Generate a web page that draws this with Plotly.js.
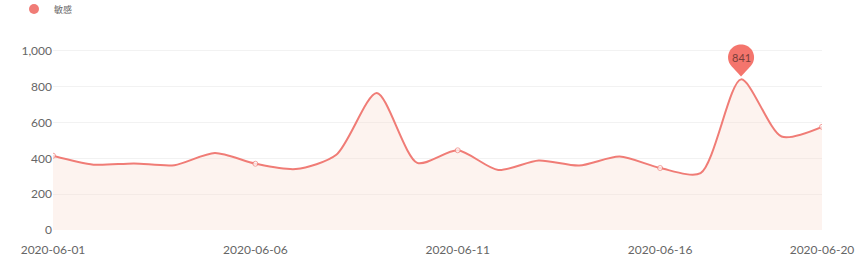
<!DOCTYPE html>
<html>
<head>
<meta charset="utf-8">
<script src="https://cdn.plot.ly/plotly-3.0.1.min.js"></script>
<style>html,body{margin:0;padding:0;background:#fff;}#chart{width:864px;height:270px;}</style>
</head>
<body>
<div id="chart"></div>
<script>
var dates = ["2020-06-01","2020-06-02","2020-06-03","2020-06-04","2020-06-05","2020-06-06","2020-06-07","2020-06-08","2020-06-09","2020-06-10",
             "2020-06-11","2020-06-12","2020-06-13","2020-06-14","2020-06-15","2020-06-16","2020-06-17","2020-06-18","2020-06-19","2020-06-20"];
var sensitive = [415, 365, 372, 362, 430, 370, 340, 420, 765, 375,
                 445, 335, 388, 360, 410, 346, 318, 841, 522, 576];
var tickLabels = ["2020-06-01","2020-06-06","2020-06-11","2020-06-16","2020-06-20"];
var seriesName = "敏感";

var lineColor = "#f07c76";
var markerIdx = dates.map(function(d){ return tickLabels.indexOf(d) >= 0; });

var maxVal = Math.max.apply(null, sensitive);
var maxIdx = sensitive.indexOf(maxVal);

// pin path in pixel offsets relative to the max point
var r = 13, cy = 22, tipY = 3;
var d = cy - tipY;
var a = Math.acos(r / d);
var pts = [];
pts.push([0, tipY]);
var start = -Math.PI/2 + a, end = -Math.PI/2 - a + 2*Math.PI;
for (var k = 0; k <= 40; k++) {
  var t = start + (end - start) * k / 40;
  pts.push([r*Math.cos(t), cy + r*Math.sin(t)]);
}
var path = pts.map(function(p, i){ return (i === 0 ? "M" : "L") + p[0].toFixed(2) + "," + p[1].toFixed(2); }).join(" ") + " Z";

var traces = [
  {
    x: dates, y: sensitive, type: "scatter", mode: "lines+markers",
    line: {shape: "spline", smoothing: 0.75, color: lineColor, width: 2},
    marker: {
      size: markerIdx.map(function(m){ return m ? 5 : 0; }),
      color: "#ffffff",
      line: {color: lineColor, width: markerIdx.map(function(m){ return m ? 1 : 0; })}
    },
    fill: "tozeroy", fillcolor: "rgba(250,222,210,0.35)",
    showlegend: false, hoverinfo: "x+y", name: seriesName
  },
  {
    x: [null], y: [null], type: "scatter", mode: "markers", name: seriesName,
    marker: {size: 10, color: lineColor, symbol: "circle"}, showlegend: true
  }
];

var layout = {
  width: 864, height: 270,
  margin: {l: 53, r: 42, t: 33, b: 40},
  paper_bgcolor: "#fff", plot_bgcolor: "#fff",
  font: {family: "Lato, 'Noto Sans CJK SC', sans-serif", color: "#666", size: 12},
  showlegend: true,
  legend: {orientation: "h", x: 14/864, xref: "container", y: 1 - 9/270, yref: "container", yanchor: "middle", xanchor: "left",
           font: {size: 9, color: "#666"}, bgcolor: "rgba(0,0,0,0)"},
  xaxis: {
    type: "category", range: [0, dates.length - 1],
    tickvals: tickLabels, ticktext: tickLabels,
    showgrid: false, zeroline: false, showline: false, ticks: "",
    tickfont: {size: 12, color: "#666"}, ticklabelstandoff: 11
  },
  yaxis: {
    range: [0, 1100], tickvals: [0, 200, 400, 600, 800, 1000],
    ticktext: ["0", "200", "400", "600", "800", "1,000"],
    showgrid: true, gridcolor: "#f2f2f2", gridwidth: 1, zeroline: false, showline: false, ticks: "",
    tickfont: {size: 12, color: "#666"}
  },
  shapes: [{
    type: "path", xref: "x", yref: "y", xsizemode: "pixel", ysizemode: "pixel",
    xanchor: dates[maxIdx], yanchor: maxVal, path: path,
    fillcolor: "#f4756d", line: {width: 0}, layer: "above"
  }],
  annotations: [{
    x: dates[maxIdx], y: maxVal, xref: "x", yref: "y", text: String(maxVal),
    showarrow: false, yshift: 22, font: {size: 11, color: "#7a3e3a"}
  }]
};

Plotly.newPlot("chart", traces, layout, {displayModeBar: false, staticPlot: true});
</script>
</body>
</html>
